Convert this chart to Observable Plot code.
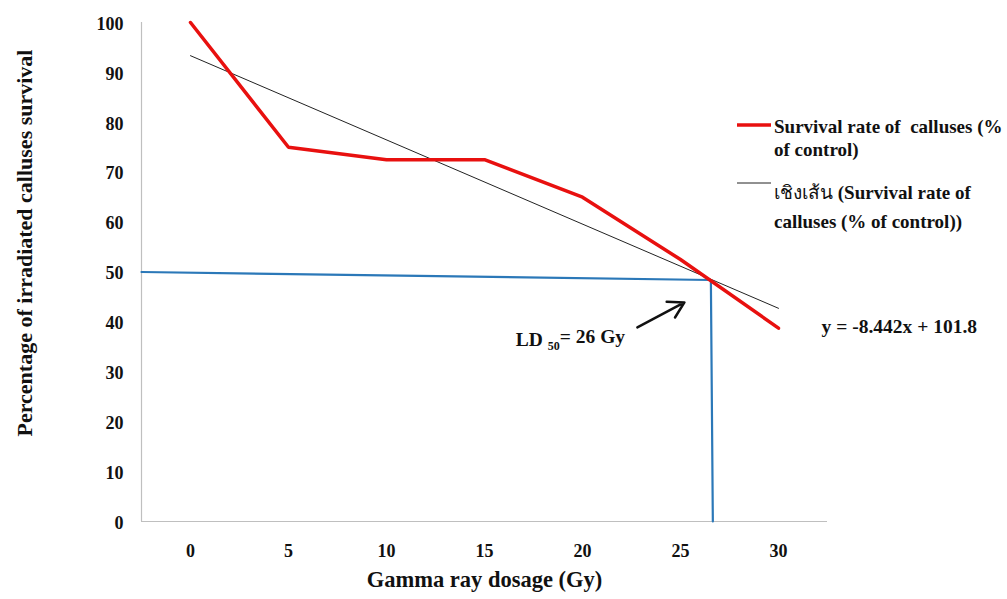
<!DOCTYPE html>
<html>
<head>
<meta charset="utf-8">
<script src="https://cdn.jsdelivr.net/npm/d3@7"></script>
<script src="https://cdn.jsdelivr.net/npm/@observablehq/plot@0.6"></script>
<style>
  html, body { margin: 0; padding: 0; background: #fff; }
  #chart { position: relative; width: 1007px; height: 599px; }
</style>
</head>
<body>
<div id="chart"></div>
<script>
// ---- data ----
const doses = [0, 5, 10, 15, 20, 25, 30];
const survival = [100, 75, 72.5, 72.5, 65, 52.5, 38.75];
const xTicks = [0, 5, 10, 15, 20, 25, 30];
const yTicks = [0, 10, 20, 30, 40, 50, 60, 70, 80, 90, 100];
// LD50 guide line
const guideX = [-2.5, 26.55, 26.65];
const guideY = [50, 48.4, 0];
// annotation arrow (tail -> head)
const arrowX = [22.8, 25.2];
const arrowY = [38.9, 43.9];
const ldLabel = {x: 16.6, y: 36.4, text: "LD 50= 26 Gy"};
const eqLabel = {x: 32.2, y: 39, text: "y = -8.442x + 101.8"};
const xTitle = "Gamma ray dosage (Gy)";
const yTitle = "Percentage of irradiated calluses survival";
const legendItems = [
  {lines: ["Survival rate of  calluses (%", "of control)"]},
  {lines: ["เชิงเส้น (Survival rate of", "calluses (% of control))"]}
];

const data = doses.map((d, i) => ({dose: d, value: survival[i]}));
const guide = guideX.map((x, i) => ({x, y: guideY[i]}));

const RED = "#e8100f", BLUE = "#2b78b8";

const plot = Plot.plot({
  width: 1007,
  height: 599,
  marginLeft: 141,
  marginRight: 180,
  marginTop: 22,
  marginBottom: 78,
  style: {fontFamily: "'Liberation Serif', 'Times New Roman', serif", fontWeight: "bold", color: "#111", background: "#fff"},
  x: {domain: [-2.5, 32.5]},
  y: {domain: [0, 100]},
  marks: [
    Plot.ruleY([0], {stroke: "#bfbfbf", strokeWidth: 1.2}),
    Plot.ruleX([-2.5], {stroke: "#bfbfbf", strokeWidth: 1.2}),
    Plot.axisX(xTicks, {tickSize: 0, tickPadding: 23, fontSize: 18, label: null, tickFormat: d => String(d)}),
    Plot.axisY(yTicks, {tickSize: 0, tickPadding: 18, dy: 1.5, fontSize: 18, label: null, tickFormat: d => String(d)}),
    Plot.text([xTitle], {frameAnchor: "bottom", textAnchor: "middle", dy: 65, dx: 0, fontSize: 22.5, fontWeight: "bold"}),
    Plot.text([yTitle], {frameAnchor: "left", textAnchor: "middle", rotate: -90, dx: -117, dy: -29, fontSize: 22, fontWeight: "bold"}),
    Plot.line(guide, {x: "x", y: "y", stroke: BLUE, strokeWidth: 2.2}),
    Plot.linearRegressionY(data, {x: "dose", y: "value", stroke: "#222", strokeWidth: 1, ci: 0}),
    Plot.line(data, {x: "dose", y: "value", stroke: RED, strokeWidth: 3.5, strokeLinejoin: "miter"}),
    Plot.arrow([0], {x1: () => arrowX[0], y1: () => arrowY[0], x2: () => arrowX[1], y2: () => arrowY[1], stroke: "#111", strokeWidth: 2.5, headLength: 12}),
    Plot.text([ldLabel], {x: "x", y: "y", text: "text", textAnchor: "start", fontSize: 19.5, fontWeight: "bold", className: "ld-label"}),
    Plot.text([eqLabel], {x: "x", y: "y", text: "text", textAnchor: "start", fontSize: 19.5, fontWeight: "bold", clip: false})
  ]
});

document.getElementById("chart").appendChild(plot);

// subscript for LD50
const svg = d3.select(plot);
svg.selectAll(".ld-label text").each(function() {
  const t = d3.select(this);
  t.text(null);
  t.append("tspan").text("LD ");
  t.append("tspan").attr("font-size", 12).attr("dy", "0.35em").text("50");
  t.append("tspan").attr("dy", "-0.35em").text("= 26 Gy");
});

// legend (to the right of plot)
const lg = svg.append("g").attr("font-size", 19).attr("font-weight", "bold").attr("fill", "#111").attr("text-anchor", "start");
const legendSpecs = [
  {stroke: RED, width: 3.5, lineY: 125, baselines: [133, 156]},
  {stroke: "#222", width: 1, lineY: 183, baselines: [199, 228]}
];
legendItems.forEach((item, i) => {
  const s = legendSpecs[i];
  lg.append("line").attr("x1", 737).attr("x2", 771).attr("y1", s.lineY).attr("y2", s.lineY)
    .attr("stroke", s.stroke).attr("stroke-width", s.width);
  item.lines.forEach((ln, j) => {
    const txt = lg.append("text").attr("x", 774).attr("y", s.baselines[j]);
    if (ln.startsWith("เชิงเส้น")) {
      txt.append("tspan").attr("font-weight", "normal").attr("font-size", 19).text("เชิงเส้น");
      txt.append("tspan").text(ln.slice("เชิงเส้น".length));
    } else {
      txt.text(ln);
    }
  });
});
</script>
</body>
</html>
